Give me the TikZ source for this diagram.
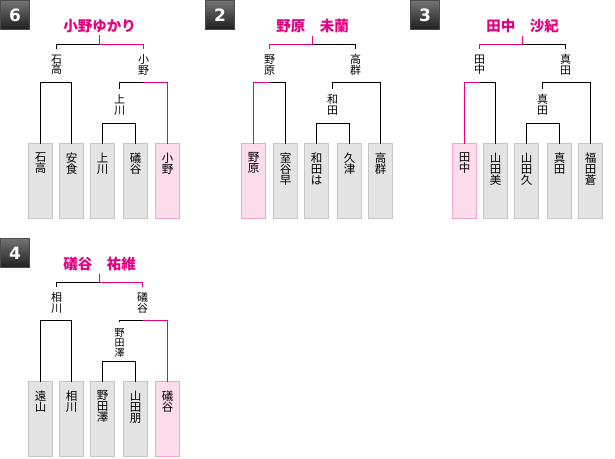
\documentclass[tikz,border=0pt]{standalone}
\usepackage{fontspec}
\newfontfamily\jp{Noto Sans CJK JP}
\newfontfamily\badgefont{DejaVu Sans}
\definecolor{mag}{HTML}{E4007F}
\definecolor{gfill}{HTML}{E4E4E4}
\definecolor{gline}{HTML}{C6C6C6}
\definecolor{pfill}{HTML}{FDDCEC}
\definecolor{pline}{HTML}{F2A6CD}
\tikzset{
  blk/.style={draw=black,line width=1pt},
  mg/.style={draw=mag,line width=1pt},
  gbox/.style={draw=gline,fill=gfill,line width=1pt,minimum width=24pt,minimum height=75pt,anchor=north,inner sep=0pt,outer sep=0pt},
  pbox/.style={gbox,draw=pline,fill=pfill},
  btext/.style={font=\jp\fontsize{11.5}{11}\selectfont,align=center,inner sep=0pt,anchor=north},
  lbl/.style={font=\jp\fontsize{11}{10.7}\selectfont,align=center,inner xsep=0pt,inner ysep=6pt,anchor=north},
  slbl/.style={lbl,font=\jp\fontsize{10}{10}\selectfont},
  ttl/.style={font=\jp\bfseries\fontsize{14.5}{14.5}\selectfont,text=mag,inner sep=2.5pt},
  badge/.style={draw=black!70,top color=black!55,bottom color=black!88,minimum width=29pt,minimum height=29pt,inner sep=0pt,outer sep=0pt,anchor=north west,text=white,font=\badgefont\bfseries\fontsize{17}{17}\selectfont}
}
\begin{document}
\begin{tikzpicture}[x=1pt,y=-1pt]
\useasboundingbox (0,0) rectangle (615,458);
% ===== Panel 6 =====
\node[badge] (g6) at (0.5,0.5) {6};
\node[ttl] (t6) at (99.5,26) {小野ゆかり};
\node[lbl] (a6) at (56.5,48.5) {石\\高};
\node[lbl] (b6) at (143.5,48.5) {小\\野};
\node[lbl] (c6) at (119.5,88.5) {上\\川};
\node[gbox] (p6a) at (40.5,143.5) {};
\node[gbox] (p6b) at (71.5,143.5) {};
\node[gbox] (p6c) at (102.5,143.5) {};
\node[gbox] (p6d) at (135.5,143.5) {};
\node[pbox] (p6e) at (167.5,143.5) {};
\node[btext] (s6a) at ([yshift=-9pt]p6a.north) {石\\高};
\node[btext] (s6b) at ([yshift=-9pt]p6b.north) {安\\食};
\node[btext] (s6c) at ([yshift=-9pt]p6c.north) {上\\川};
\node[btext] (s6d) at ([yshift=-9pt]p6d.north) {礒\\谷};
\node[btext] (s6e) at ([yshift=-9pt]p6e.north) {小\\野};
\coordinate (k6) at (99.5,44.5);
\coordinate (j6a) at (56,82.5);
\coordinate (j6b) at (143.5,82.5);
\coordinate (j6c) at (119.5,123.5);
\draw[blk] (a6.north) |- (k6);
\draw[mg] (t6.south) -- (k6) -| (b6.north);
\draw[blk] (p6a.north) |- (j6a) -| (p6b.north);
\draw[blk] (c6.north) |- (j6b);
\draw[mg] (j6b) -| (p6e.north);
\draw[blk] (p6c.north) |- (j6c) -| (p6d.north);
% ===== Panel 2 =====
\node[badge] (g2) at (205.5,0.5) {2};
\node[ttl] (t2) at (312.5,26) {野原　未蘭};
\node[lbl] (a2) at (269.5,48.5) {野\\原};
\node[lbl] (b2) at (355.5,48.5) {高\\群};
\node[lbl] (c2) at (332.5,88.5) {和\\田};
\node[pbox] (p2a) at (253.5,143.5) {};
\node[gbox] (p2b) at (285.5,143.5) {};
\node[gbox] (p2c) at (316.5,143.5) {};
\node[gbox] (p2d) at (349.5,143.5) {};
\node[gbox] (p2e) at (380.5,143.5) {};
\node[btext] (s2a) at ([yshift=-9pt]p2a.north) {野\\原};
\node[btext] (s2b) at ([yshift=-9pt]p2b.north) {室\\谷\\早};
\node[btext] (s2c) at ([yshift=-9pt]p2c.north) {和\\田\\は};
\node[btext] (s2d) at ([yshift=-9pt]p2d.north) {久\\津};
\node[btext] (s2e) at ([yshift=-9pt]p2e.north) {高\\群};
\coordinate (k2) at (312.5,44.5);
\coordinate (j2a) at (269.5,82.5);
\coordinate (j2b) at (355.5,82.5);
\coordinate (j2c) at (333,123.5);
\draw[mg] (a2.north) |- (k2) -- (t2.south);
\draw[blk] (k2) -| (b2.north);
\draw[mg] (j2a) -| (p2a.north);
\draw[blk] (j2a) -| (p2b.north);
\draw[blk] (c2.north) |- (j2b) -| (p2e.north);
\draw[blk] (p2c.north) |- (j2c) -| (p2d.north);
% ===== Panel 3 =====
\node[badge] (g3) at (410.5,0.5) {3};
\node[ttl] (t3) at (522.5,26) {田中　沙紀};
\node[lbl] (a3) at (479.5,48.5) {田\\中};
\node[lbl] (b3) at (565.5,48.5) {真\\田};
\node[lbl] (c3) at (542.5,88.5) {真\\田};
\node[pbox] (p3a) at (464.5,143.5) {};
\node[gbox] (p3b) at (495.5,143.5) {};
\node[gbox] (p3c) at (526.5,143.5) {};
\node[gbox] (p3d) at (559.5,143.5) {};
\node[gbox] (p3e) at (590.5,143.5) {};
\node[btext] (s3a) at ([yshift=-9pt]p3a.north) {田\\中};
\node[btext] (s3b) at ([yshift=-9pt]p3b.north) {山\\田\\美};
\node[btext] (s3c) at ([yshift=-9pt]p3c.north) {山\\田\\久};
\node[btext] (s3d) at ([yshift=-9pt]p3d.north) {真\\田};
\node[btext] (s3e) at ([yshift=-9pt]p3e.north) {福\\田\\蒼};
\coordinate (k3) at (522.5,44.5);
\coordinate (j3a) at (479.5,82.5);
\coordinate (j3b) at (565.5,82.5);
\coordinate (j3c) at (543,123.5);
\draw[mg] (a3.north) |- (k3) -- (t3.south);
\draw[blk] (k3) -| (b3.north);
\draw[mg] (j3a) -| (p3a.north);
\draw[blk] (j3a) -| (p3b.north);
\draw[blk] (c3.north) |- (j3b) -| (p3e.north);
\draw[blk] (p3c.north) |- (j3c) -| (p3d.north);
% ===== Panel 4 =====
\node[badge] (g4) at (0.5,238.5) {4};
\node[ttl] (t4) at (99.5,264) {礒谷　祐維};
\node[lbl] (a4) at (56.5,286.5) {相\\川};
\node[lbl] (b4) at (142.5,286.5) {礒\\谷};
\node[slbl] (c4) at (119.5,322) {野\\田\\澤};
\node[gbox] (p4a) at (40.5,381.5) {};
\node[gbox] (p4b) at (71.5,381.5) {};
\node[gbox] (p4c) at (102.5,381.5) {};
\node[gbox] (p4d) at (135.5,381.5) {};
\node[pbox] (p4e) at (167.5,381.5) {};
\node[btext] (s4a) at ([yshift=-9pt]p4a.north) {遠\\山};
\node[btext] (s4b) at ([yshift=-9pt]p4b.north) {相\\川};
\node[btext] (s4c) at ([yshift=-9pt]p4c.north) {野\\田\\澤};
\node[btext] (s4d) at ([yshift=-9pt]p4d.north) {山\\田\\朋};
\node[btext] (s4e) at ([yshift=-9pt]p4e.north) {礒\\谷};
\coordinate (k4) at (99.5,282.5);
\coordinate (j4a) at (56,320.5);
\coordinate (j4b) at (142.5,320.5);
\coordinate (j4c) at (119.5,361.5);
\draw[blk] (a4.north) |- (k4);
\draw[mg] (t4.south) -- (k4) -| (b4.north);
\draw[blk] (p4a.north) |- (j4a) -| (p4b.north);
\draw[blk] (c4.north) |- (j4b);
\draw[mg] (j4b) -| (p4e.north);
\draw[blk] (p4c.north) |- (j4c) -| (p4d.north);
\end{tikzpicture}
\end{document}
